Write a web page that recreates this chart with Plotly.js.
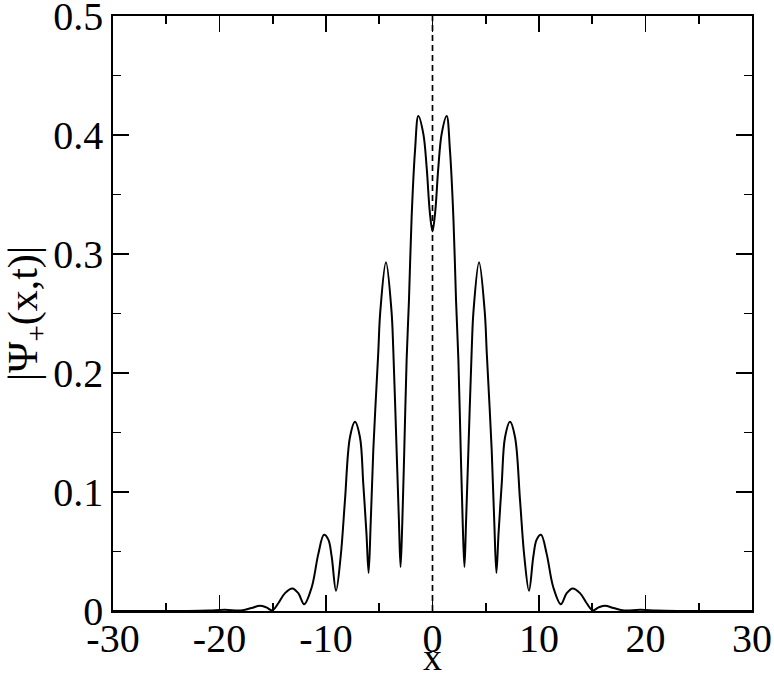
<!DOCTYPE html>
<html>
<head>
<meta charset="utf-8">
<script src="https://cdn.plot.ly/plotly-3.0.1.min.js"></script>
<style>
  html, body { margin: 0; padding: 0; background: #fff; }
  #chart { width: 774px; height: 678px; }
</style>
</head>
<body>
<div id="chart"></div>
<script>
// |Psi_+(x,t)|
const xValues = [
  -30, -26, -23, -21, -19.5, -18.0, -17.0, -16.2, -15.6, -15.04,
  -14.48, -13.85, -13.16, -12.6, -12.05, -11.34, -10.72, -10.19, -9.78, -9.47,
  -9.06, -8.62, -8.22, -7.75, -7.28, -6.81, -6.5, -6.2, -6.0, -5.8,
  -5.56, -5.1, -4.9, -4.37, -3.85, -3.68, -3.37, -3.15, -3.0, -2.85,
  -2.65, -2.43, -2.21, -1.96, -1.64, -1.33, -0.86, -0.55, -0.25, 0,
  0.25, 0.55, 0.86, 1.33, 1.64, 1.96, 2.21, 2.43, 2.65, 2.85,
  3.0, 3.15, 3.37, 3.68, 3.85, 4.37, 4.9, 5.1, 5.56, 5.8,
  6.0, 6.2, 6.5, 6.81, 7.28, 7.75, 8.22, 8.62, 9.06, 9.47,
  9.78, 10.19, 10.72, 11.34, 12.05, 12.6, 13.16, 13.85, 14.48, 15.04,
  15.6, 16.2, 17.0, 18.0, 19.5, 21, 23, 26, 30
];
const psiValues = [
  0, 0, 0.0001, 0.0004, 0.0010, 0.0004, 0.0025, 0.0045, 0.003, 0.0005,
  0.0065, 0.015, 0.019, 0.015, 0.0057, 0.020, 0.048, 0.064, 0.060, 0.046,
  0.017, 0.046, 0.093, 0.146, 0.159, 0.146, 0.107, 0.065, 0.032, 0.075,
  0.135, 0.216, 0.252, 0.293, 0.252, 0.219, 0.135, 0.075, 0.037, 0.070,
  0.135, 0.211, 0.261, 0.331, 0.387, 0.416, 0.401, 0.373, 0.335, 0.319,
  0.335, 0.373, 0.401, 0.416, 0.387, 0.331, 0.261, 0.211, 0.135, 0.070,
  0.037, 0.075, 0.135, 0.219, 0.252, 0.293, 0.252, 0.216, 0.135, 0.075,
  0.032, 0.065, 0.107, 0.146, 0.159, 0.146, 0.093, 0.046, 0.017, 0.046,
  0.060, 0.064, 0.048, 0.020, 0.0057, 0.015, 0.019, 0.015, 0.0065, 0.0005,
  0.003, 0.0045, 0.0025, 0.0004, 0.0010, 0.0004, 0.0001, 0, 0
];
const centerLineX = [0, 0];
const centerLineY = [0, 0.5];

const xTickVals = [-30, -20, -10, 0, 10, 20, 30];
const xTickText = ['-30', '-20', '-10', '0', '10', '20', '30'];
const yTickVals = [0, 0.1, 0.2, 0.3, 0.4, 0.5];
const yTickText = ['0', '0.1', '0.2', '0.3', '0.4', '0.5'];

const serif = 'Liberation Serif, Times New Roman, serif';

const traces = [
  {
    x: xValues, y: psiValues, type: 'scatter', mode: 'lines',
    line: { color: '#000', width: 2, shape: 'spline', smoothing: 1 },
    hoverinfo: 'skip'
  },
  {
    x: centerLineX, y: centerLineY, type: 'scatter', mode: 'lines',
    line: { color: '#000', width: 1.7, dash: '6px,4px' },
    hoverinfo: 'skip'
  }
];

const axisCommon = {
  showline: true, linecolor: '#000', linewidth: 1.8,
  mirror: 'ticks', ticks: 'inside', ticklen: 16, tickwidth: 1.6, tickcolor: '#000',
  showgrid: false, zeroline: false,
  ticklabeloverflow: 'allow',
  tickfont: { family: serif, size: 40, color: '#000' }
};

const layout = {
  width: 774, height: 678,
  margin: { l: 113, r: 22, t: 16, b: 67 },
  paper_bgcolor: '#fff', plot_bgcolor: '#fff',
  showlegend: false,
  font: { family: serif, color: '#000' },
  xaxis: Object.assign({}, axisCommon, {
    range: [-30, 30], tickmode: 'array', tickvals: xTickVals, ticktext: xTickText,
    minor: { dtick: 5, ticks: 'inside', ticklen: 8, tickwidth: 1.6, tickcolor: '#000', showgrid: false },
    title: { text: 'x', font: { family: serif, size: 38, color: '#000' }, standoff: 0 },
    ticklabelstandoff: -9
  }),
  yaxis: Object.assign({}, axisCommon, {
    range: [0, 0.5], tickmode: 'array', tickvals: yTickVals, ticktext: yTickText,
    minor: { dtick: 0.05, ticks: 'inside', ticklen: 8, tickwidth: 1.6, tickcolor: '#000', showgrid: false },
    title: { text: '|Ψ<sub>+</sub>(x,t)|', font: { family: serif, size: 42, color: '#000' }, standoff: 6 }
  })
};

Plotly.newPlot('chart', traces, layout, { displayModeBar: false, staticPlot: true });
</script>
</body>
</html>
